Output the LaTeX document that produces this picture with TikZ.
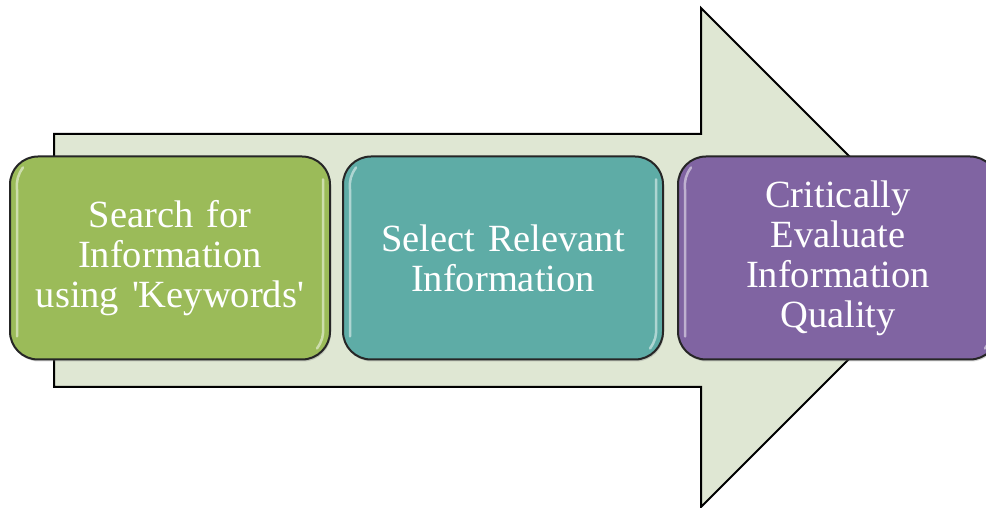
\documentclass[tikz,border=0pt]{standalone}
\usepackage{fontspec}
\setmainfont{Liberation Serif}
\usetikzlibrary{shadows}

\definecolor{bandfill}{HTML}{DFE7D3}
\definecolor{stepgreen}{HTML}{9BBB59}
\definecolor{stepteal}{HTML}{5EACA6}
\definecolor{steppurple}{HTML}{8064A2}

\begin{document}
\begin{tikzpicture}[x=1pt,y=1pt,
    stepbox/.style={draw=black!85, line width=2pt, rounded corners=28pt,
        minimum width=320pt, minimum height=203pt, text width=300pt,
        align=center, text=white, font=\fontsize{38.5}{40}\selectfont,
        drop shadow={opacity=0.35, shadow xshift=1pt, shadow yshift=-2pt}},
    gloss/.style={white, opacity=0.5, line width=2.5pt, line cap=round}]
\useasboundingbox (0,0) rectangle (986,508);

% big arrow in the back
\draw[fill=bandfill, line width=2pt, line join=miter]
    (54,374) -- (701,374) -- (701,500) -- (950.5,250.5)
    -- (701,1) -- (701,121) -- (54,121) -- cycle;

% the three steps
\node[stepbox, fill=stepgreen] (search) at (170,250) {Search for\\Information\\using \textquotesingle Keywords\textquotesingle};
\node[stepbox, fill=stepteal] (select) at (503,250) {Select Relevant\\Information};
\node[stepbox, fill=steppurple] (evaluate) at (838,250) {Critically\\Evaluate\\Information\\Quality};

% light edges on each box
\foreach \n in {search,select,evaluate} {
    \draw[gloss] ([shift={(14,-12)}]\n.north west) to[bend right=20] ([shift={(8,-34)}]\n.north west)
        -- ([shift={(8,24)}]\n.south west);
    \draw[gloss] ([shift={(-8,-24)}]\n.north east) -- ([shift={(-8,34)}]\n.south east)
        to[bend left=20] ([shift={(-14,12)}]\n.south east);
}
\end{tikzpicture}
\end{document}
